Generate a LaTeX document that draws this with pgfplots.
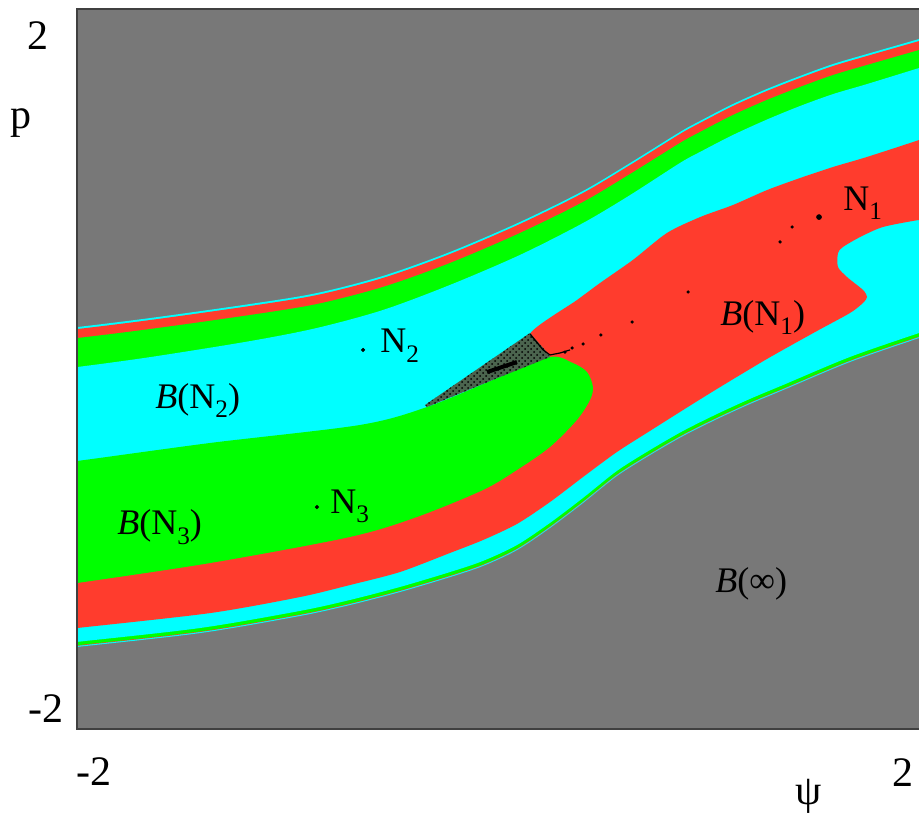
\documentclass[border=0pt]{standalone}
\usepackage{fontspec}
\setmainfont{Liberation Serif}
\usepackage{pgfplots}
\pgfplotsset{compat=1.18}
\usetikzlibrary{patterns}
\definecolor{bg}{RGB}{120,120,120}
\definecolor{bred}{RGB}{255,60,45}
\definecolor{bgreen}{RGB}{0,255,0}
\definecolor{bcyan}{RGB}{0,255,255}
\definecolor{frac}{RGB}{75,100,78}
\newcommand\lab{\fontsize{18}{20}\selectfont}
\newcommand\axf{\fontsize{21}{24}\selectfont}
\newcommand\sub[1]{\raisebox{-0.27em}{\fontsize{12.6}{13}\selectfont #1}}
\begin{document}
\begin{tikzpicture}
\begin{axis}[
  scale only axis, width=421pt, height=360pt,
  xmin=-2, xmax=2, ymin=-2, ymax=2,
  axis background/.style={fill=bg},
  axis line style={draw=none},
  ticks=none,
]
% outer envelope (thin cyan rim)
\addplot[fill=bcyan, draw=none, smooth] coordinates {
(-2.05,0.233) (-2.000,0.233) (-1.653,0.283) (-1.178,0.361) (-0.860,0.422) (-0.546,0.517) (-0.228,0.650) (0.105,0.817) (0.404,0.989) (0.627,1.144) (0.865,1.317) (0.960,1.378) (1.116,1.472) (1.278,1.556) (1.435,1.628) (1.591,1.694) (1.753,1.750) (2.000,1.833) (2.05,1.850)
(2.05,0.19) (2.000,0.172) (1.672,0.039) (1.354,-0.117) (1.197,-0.194) (1.040,-0.278) (0.879,-0.372) (0.722,-0.478) (0.565,-0.594) (0.404,-0.744) (0.247,-0.883) (0.090,-1.006) (-0.071,-1.094) (-0.228,-1.156) (-0.466,-1.239) (-0.703,-1.311) (-0.941,-1.372) (-1.416,-1.467) (-2.000,-1.544) (-2.05,-1.55)
} -- cycle;
% outer red layer
\addplot[fill=bred, draw=none, smooth] coordinates {
(-2.05,0.222) (-2.000,0.222) (-1.653,0.272) (-1.178,0.350) (-0.860,0.411) (-0.546,0.506) (-0.228,0.639) (0.105,0.806) (0.404,0.978) (0.627,1.133) (0.865,1.306) (0.960,1.367) (1.116,1.461) (1.278,1.545) (1.435,1.617) (1.591,1.683) (1.753,1.739) (2.000,1.822) (2.05,1.839)
(2.05,0.196) (2.000,0.178) (1.672,0.045) (1.354,-0.111) (1.197,-0.188) (1.040,-0.272) (0.879,-0.366) (0.722,-0.472) (0.565,-0.588) (0.404,-0.738) (0.247,-0.877) (0.090,-1.000) (-0.071,-1.088) (-0.228,-1.150) (-0.466,-1.233) (-0.703,-1.305) (-0.941,-1.366) (-1.416,-1.461) (-2.000,-1.538) (-2.05,-1.544)
} -- cycle;
% green layer
\addplot[fill=bgreen, draw=none, smooth] coordinates {
(-2.05,0.172) (-2.000,0.172) (-1.653,0.222) (-1.178,0.300) (-0.860,0.361) (-0.546,0.456) (-0.228,0.589) (0.105,0.756) (0.404,0.928) (0.627,1.083) (0.865,1.256) (0.960,1.317) (1.116,1.411) (1.278,1.495) (1.435,1.567) (1.591,1.633) (1.753,1.689) (2.000,1.772) (2.05,1.789)
(2.05,0.199) (2.000,0.181) (1.672,0.048) (1.354,-0.108) (1.197,-0.185) (1.040,-0.269) (0.879,-0.363) (0.722,-0.469) (0.565,-0.585) (0.404,-0.735) (0.247,-0.874) (0.090,-0.997) (-0.071,-1.085) (-0.228,-1.147) (-0.466,-1.230) (-0.703,-1.302) (-0.941,-1.363) (-1.416,-1.458) (-2.000,-1.535) (-2.05,-1.541)
} -- cycle;
% cyan basin B(N2)
\addplot[fill=bcyan, draw=none, smooth] coordinates {
(-2.05,0.011) (-2.000,0.011) (-1.653,0.066) (-1.178,0.155) (-0.860,0.228) (-0.546,0.328) (-0.228,0.467) (0.105,0.634) (0.404,0.811) (0.627,0.966) (0.865,1.145) (0.960,1.206) (1.116,1.300) (1.278,1.386) (1.435,1.461) (1.591,1.527) (1.753,1.583) (2.000,1.672) (2.05,1.689)
(2.05,0.218) (2.000,0.200) (1.672,0.067) (1.354,-0.089) (1.197,-0.166) (1.040,-0.250) (0.879,-0.344) (0.722,-0.450) (0.565,-0.566) (0.404,-0.716) (0.247,-0.855) (0.090,-0.978) (-0.071,-1.066) (-0.228,-1.128) (-0.466,-1.211) (-0.703,-1.283) (-0.941,-1.344) (-1.416,-1.439) (-2.000,-1.516) (-2.05,-1.522)
} -- cycle;
% red basin B(N1)
\addplot[fill=bred, draw=none, smooth, tension=0.45] coordinates {
(-2.05,-0.894) (-0.703,-0.728) (-0.086,-0.394) (0.200,-0.089) (0.247,0.067) (0.152,0.195)
(0.375,0.383) (0.485,0.478) (0.641,0.606) (0.803,0.756) (0.960,0.844) (1.116,0.911) (1.278,0.994) (1.435,1.061) (1.591,1.122) (1.753,1.178) (2.000,1.272) (2.05,1.294)
(2.05,0.828) (2.000,0.828) (1.829,0.789) (1.720,0.733) (1.639,0.678) (1.615,0.644) (1.615,0.567) (1.658,0.511) (1.734,0.439) (1.753,0.400) (1.734,0.367)
(1.672,0.311) (1.515,0.211) (1.278,0.056) (1.040,-0.111) (0.879,-0.228) (0.722,-0.344) (0.565,-0.461) (0.404,-0.600) (0.247,-0.739) (0.090,-0.861) (-0.071,-0.950) (-0.228,-1.022) (-0.466,-1.128) (-0.703,-1.200) (-0.941,-1.267) (-1.368,-1.356) (-2.000,-1.439) (-2.05,-1.445)
} -- cycle;
% green basin B(N3)
\addplot[fill=bgreen, draw=none, smooth] coordinates {
(-2.05,-0.511) (-2.000,-0.511) (-1.368,-0.411) (-0.656,-0.311) (-0.337,-0.211) (0.010,-0.044) (0.247,0.067) (0.356,0.033) (0.423,-0.017) (0.451,-0.100) (0.437,-0.172) (0.375,-0.283) (0.247,-0.433) (0.090,-0.561) (-0.071,-0.672) (-0.385,-0.822) (-0.703,-0.933) (-1.368,-1.078) (-2.000,-1.189) (-2.05,-1.195)
} -- cycle;
% fractal wedge
\addplot[fill=frac, draw=none] coordinates {
(-0.347,-0.200) (0.152,0.200) (0.223,0.106) (0.247,0.067) (0.010,-0.044) (-0.337,-0.211)
} -- cycle;
\addplot[pattern=crosshatch dots, pattern color=black, draw=none] coordinates {
(-0.347,-0.200) (0.152,0.200) (0.223,0.106) (0.247,0.067) (0.010,-0.044) (-0.337,-0.211)
} -- cycle;
\addplot[black, line width=2pt] coordinates {(-0.052,-0.017) (0.090,0.039)};
\addplot[black, line width=0.6pt] coordinates {(0.152,0.195) (0.214,0.106) (0.247,0.078) (0.295,0.089) (0.342,0.106)};
% orbit points
\addplot[only marks, mark=*, mark size=0.6pt, black] coordinates {
(1.397,0.789) (1.340,0.706) (0.903,0.428) (0.637,0.261) (0.489,0.189) (0.404,0.139) (0.352,0.117) (0.318,0.094)
};
\addplot[only marks, mark=*, mark size=1.2pt, black] coordinates {(1.525,0.844)};
\addplot[only marks, mark=*, mark size=0.8pt, black] coordinates {(-0.641,0.106) (-0.860,-0.767)};
% labels
\node[anchor=base west, inner sep=0, font=\lab] at (axis cs:1.639,0.883) {N\sub{1}};
\node[anchor=base west, inner sep=0, font=\lab] at (axis cs:1.055,0.244) {\textit{B}(N\sub{1})};
\node[anchor=base west, inner sep=0, font=\lab] at (axis cs:-0.561,0.089) {N\sub{2}};
\node[anchor=base west, inner sep=0, font=\lab] at (axis cs:-1.629,-0.217) {\textit{B}(N\sub{2})};
\node[anchor=base west, inner sep=0, font=\lab] at (axis cs:-0.798,-0.800) {N\sub{3}};
\node[anchor=base west, inner sep=0, font=\lab] at (axis cs:-1.810,-0.922) {\textit{B}(N\sub{3})};
\node[anchor=base west, inner sep=0, font=\lab] at (axis cs:1.031,-1.244) {\textit{B}(∞)};
\coordinate (O) at (rel axis cs:0,0);
\end{axis}
\draw[line width=0.8pt, black!75] ([xshift=440pt]O) -- (O) -- ([yshift=360pt]O) -- ([xshift=440pt,yshift=360pt]O);
\node[anchor=base west, inner sep=0, font=\axf] at ([xshift=-25pt,yshift=339.5pt]O) {2};
\node[anchor=base west, inner sep=0, font=\axf] at ([xshift=-33.5pt,yshift=300pt]O) {p};
\node[anchor=base west, inner sep=0, font=\axf] at ([xshift=-24.5pt,yshift=3.5pt]O) {-2};
\node[anchor=base west, inner sep=0, font=\axf] at ([xshift=-0.5pt,yshift=-28pt]O) {-2};
\node[anchor=base west, inner sep=0, font=\axf] at ([xshift=407.5pt,yshift=-28.5pt]O) {2};
\node[inner sep=0, font=\axf] at ([xshift=366pt,yshift=-33.5pt]O) {ψ};
\pgfresetboundingbox
\path[use as bounding box] ([xshift=-38.5pt,yshift=-42.5pt]O) rectangle ([xshift=421pt,yshift=364.5pt]O);
\end{tikzpicture}
\end{document}
